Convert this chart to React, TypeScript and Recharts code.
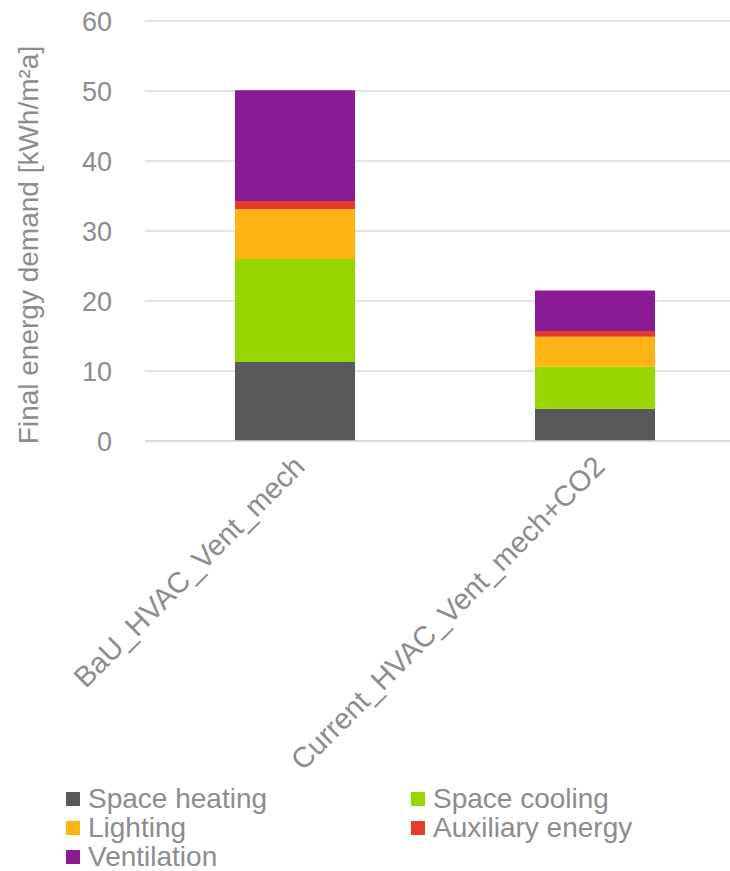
import React from "react";
import {
	BarChart,
	Bar,
	XAxis,
	YAxis,
	CartesianGrid,
	Legend,
	Label,
} from "recharts";

const categories = ["BaU_HVAC_Vent_mech", "Current_HVAC_Vent_mech+CO2"];
const spaceHeating = [11.3, 4.6];
const spaceCooling = [14.7, 6.0];
const lighting = [7.1, 4.3];
const auxiliaryEnergy = [1.2, 0.8];
const ventilation = [15.8, 5.8];
const yTicks = [0, 10, 20, 30, 40, 50, 60];

const series = [
	{ key: "heating", name: "Space heating", color: "#58595b" },
	{ key: "cooling", name: "Space cooling", color: "#98d600" },
	{ key: "lighting", name: "Lighting", color: "#fdb515" },
	{ key: "aux", name: "Auxiliary energy", color: "#e63c2e" },
	{ key: "vent", name: "Ventilation", color: "#8b1a97" },
];

const data = categories.map((c, i) => ({
	name: c,
	heating: spaceHeating[i],
	cooling: spaceCooling[i],
	lighting: lighting[i],
	aux: auxiliaryEnergy[i],
	vent: ventilation[i],
}));

const FONT = '"Liberation Sans", Arial, sans-serif';
const GREY = "#8c8c8c";

const RotatedTick = (props: any) => {
	const { x, y, payload } = props;
	return (
		<g transform={`translate(${x + 6},${y + 14})`}>
			<text
				transform="rotate(-45)"
				textAnchor="end"
				dominantBaseline="middle"
				fill={GREY}
				fontSize={29}
				fontFamily={FONT}
			>
				{payload.value}
			</text>
		</g>
	);
};

// y axis title, drawn by hand so it sits like the Excel one
const YTitle = (props: any) => {
	const { viewBox } = props;
	const cx = viewBox.x + 28;
	const cy = viewBox.y + viewBox.height / 2 + 14;
	return (
		<text
			x={cx}
			y={cy}
			transform={`rotate(-90, ${cx}, ${cy})`}
			textAnchor="middle"
			dominantBaseline="central"
			fill={GREY}
			fontSize={28}
			fontFamily={FONT}
		>
			Final energy demand [kWh/m²a]
		</text>
	);
};

const LegendContent = () => (
	<div
		style={{
			display: "grid",
			gridTemplateColumns: "345px 300px",
			paddingLeft: 66,
			fontFamily: FONT,
			fontSize: 28,
			lineHeight: "29px",
			color: GREY,
			textAlign: "left",
		}}
	>
		{series.map((s) => (
			<div key={s.key} style={{ display: "flex", alignItems: "center" }}>
				<span
					style={{
						display: "inline-block",
						width: 14,
						height: 14,
						background: s.color,
						marginRight: 8,
					}}
				/>
				{s.name}
			</div>
		))}
	</div>
);

export default function App() {
	return (
		<div
			style={{
				position: "absolute",
				top: 0,
				left: 0,
				width: 730,
				height: 871,
				overflow: "hidden",
				background: "#fff",
			}}
		>
			<BarChart
				width={745}
				height={871}
				data={data}
				margin={{ top: 21, right: 0, left: 0, bottom: 0 }}
			>
				<CartesianGrid vertical={false} stroke="#d9d9d9" strokeWidth={1.5} />
				<XAxis
					dataKey="name"
					height={343}
					interval={0}
					tickLine={false}
					axisLine={{ stroke: "#d9d9d9", strokeWidth: 1.5 }}
					tick={<RotatedTick />}
				/>
				<YAxis
					width={145}
					domain={[0, 60]}
					ticks={yTicks}
					tickLine={false}
					axisLine={false}
					tickSize={0}
					tickMargin={33}
					tick={{ fill: GREY, fontSize: 27, fontFamily: FONT }}
				>
					<Label content={<YTitle />} />
				</YAxis>
				<Legend
					verticalAlign="bottom"
					content={<LegendContent />}
					wrapperStyle={{ position: "absolute", left: 0, top: 784, width: 730 }}
				/>
				{series.map((s) => (
					<Bar
						key={s.key}
						dataKey={s.key}
						name={s.name}
						stackId="a"
						fill={s.color}
						barSize={120}
						isAnimationActive={false}
					/>
				))}
			</BarChart>
		</div>
	);
}
